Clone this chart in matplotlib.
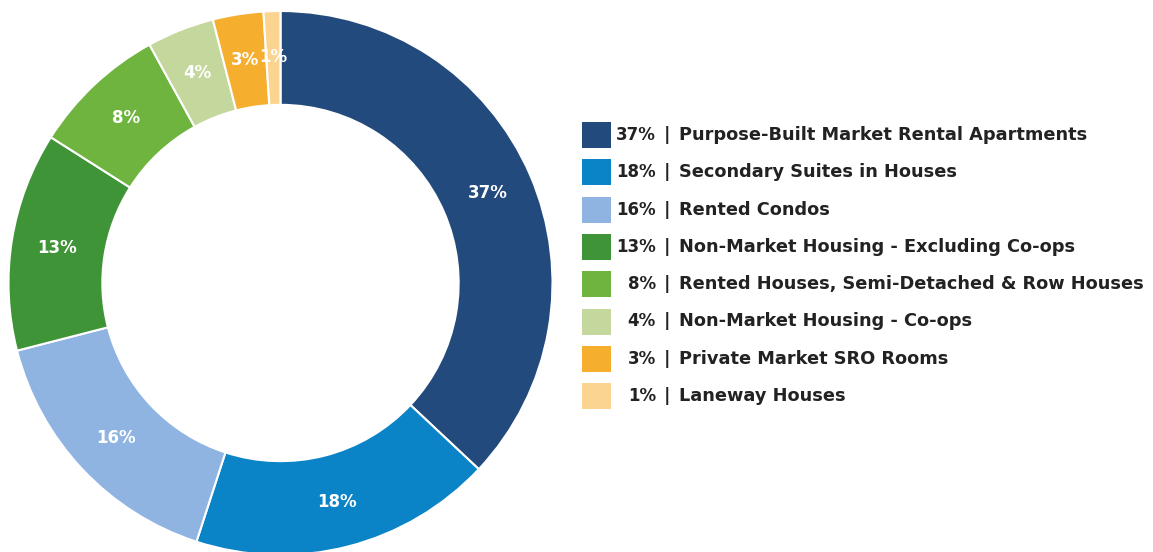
import matplotlib.pyplot as plt
from matplotlib.patches import Rectangle

shares = [37, 18, 16, 13, 8, 4, 3, 1]
labels = ['Purpose-Built Market Rental Apartments',
          'Secondary Suites in Houses',
          'Rented Condos',
          'Non-Market Housing - Excluding Co-ops',
          'Rented Houses, Semi-Detached & Row Houses',
          'Non-Market Housing - Co-ops',
          'Private Market SRO Rooms',
          'Laneway Houses']
colors = ['#234a7c', '#0a83c7', '#8fb4e2', '#3f9438',
          '#6eb43f', '#c4d79c', '#f6ae2e', '#fbd48f']

W, H = 1153, 552
fig = plt.figure(figsize=(W / 100, H / 100), dpi=100)
ax = fig.add_axes([0, 0, 1, 1])

# donut, drawn in pixel units so the legend can share the axes
cx, cy, r = 280.5, H - 283, 272
wedges, _, autotexts = ax.pie(
    shares, colors=colors, startangle=90, counterclock=False,
    center=(cx, cy), radius=r, frame=True,
    autopct='%d%%', pctdistance=0.83,
    wedgeprops=dict(width=r * 0.345, edgecolor='white', linewidth=1.5),
    textprops=dict(color='white', fontsize=12, fontweight='bold'))
ax.set_xlim(0, W)
ax.set_ylim(0, H)
ax.set_aspect('equal')
ax.axis('off')

# legend built by hand: swatch, right-aligned percent, bar, label
top, step = H - 135, 37.3
txt = dict(va='center', fontsize=12.8, fontweight='bold', color='#222222')
for i, (s, lab, c) in enumerate(zip(shares, labels, colors)):
    y = top - i * step
    ax.add_patch(Rectangle((582, y - 13), 29, 26, facecolor=c, edgecolor='none'))
    ax.text(656, y, f'{s}%', ha='right', **{**txt, 'fontsize': 12})
    ax.text(667, y, '|', ha='center', **txt)
    ax.text(679, y, lab, ha='left', **txt)

fig.savefig('out.png', dpi=100)
